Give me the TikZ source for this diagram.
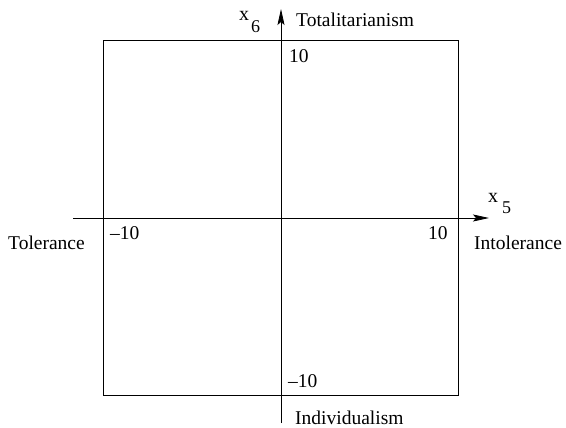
\documentclass[tikz,border=0pt]{standalone}
\usepackage{fontspec}
\setmainfont{Liberation Serif}
\usetikzlibrary{arrows.meta}
\begin{document}
\begin{tikzpicture}[x=1pt,y=-1pt,
  lbl/.style={anchor=base west,inner sep=0pt,font=\fontsize{19.5}{23}\selectfont},
  xvar/.style={anchor=base west,inner sep=0pt,font=\fontsize{20}{22}\selectfont},
  xsub/.style={anchor=base west,inner sep=0pt,font=\fontsize{18}{20}\selectfont},
  axis/.style={line width=0.8pt,-{Stealth[length=16pt,width=7pt,inset=3pt]}},
  frame/.style={line width=0.8pt}]
\useasboundingbox (0,0) rectangle (566,428);
% frame
\coordinate (bl) at (103,395);
\coordinate (tr) at (458,40);
\draw[frame] (bl) rectangle (tr);
% axes
\coordinate (xl) at (73,218);
\coordinate (xr) at (489,218);
\coordinate (yb) at (281,423);
\coordinate (yt) at (281,9);
\draw[axis] (xl) -- (xr);
\draw[axis] (yb) -- (yt);
% labels
\node[lbl] (tot) at (296,27) {Totalitarianism};
\node[lbl] (ind) at (295,424) {Individualism};
\node[lbl] (tol) at (8,250) {Tolerance};
\node[lbl] (intol) at (474,250) {Intolerance};
\node[lbl] (ytop) at (289,63) {10};
\node[lbl] (ybot) at (288,387) {\char"2013 10};
\node[lbl] (xleft) at (110,240) {\char"2013 10};
\node[lbl] (xright) at (428,240) {10};
\node[xvar] (x6) at (239,21) {x};
\node[xsub] (s6) at (251,33) {6};
\node[xvar] (x5) at (488,203) {x};
\node[xsub] (s5) at (502,213) {5};
\end{tikzpicture}
\end{document}
